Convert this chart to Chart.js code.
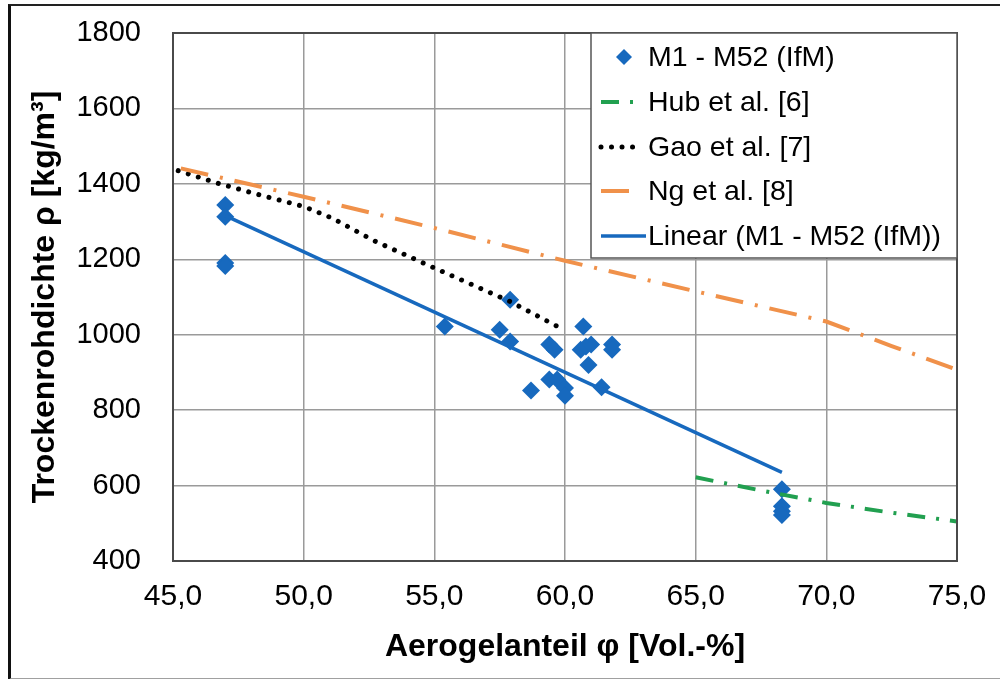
<!DOCTYPE html>
<html>
<head>
<meta charset="utf-8">
<script src="https://cdn.jsdelivr.net/npm/chart.js@4/dist/chart.umd.min.js"></script>
<style>
  html, body { margin: 0; padding: 0; background: #fff; }
  #wrap { position: relative; width: 1000px; height: 679px; overflow: hidden; }
  #frame { position: absolute; left: 8px; top: 4px; width: 1100px; height: 672px;
           border-left: 3px solid #111; border-top: 2px solid #222; border-bottom: 2px solid #a0a0a0;
           pointer-events: none; }
  canvas { position: absolute; left: 0; top: 0; }
</style>
</head>
<body>
<div id="wrap">
  <canvas id="c" width="1000" height="679"></canvas>
  <div id="frame"></div>
</div>
<script>
// ---- data ----
const ifmX = [47.0, 47.0, 47.0, 47.0, 55.4, 57.5, 57.9, 57.9, 59.4, 59.6, 59.4, 59.7, 58.7, 60.0, 60.0,
              60.7, 60.6, 60.8, 61.0, 60.9, 61.8, 61.8, 61.4, 68.3, 68.3, 68.3, 68.3];
const ifmY = [1344, 1313, 1190, 1182, 1022, 1013, 1093, 982, 974, 960, 881, 881, 852, 859, 838,
              1022, 960, 969, 974, 920, 974, 960, 861, 590, 545, 532, 522];

const hubX = [65.0, 67.5, 70.0, 72.5, 75.0];
const hubY = [622, 587, 554, 528, 505];

const gaoX = [45.2, 46.7, 48.3, 50.0, 51.1, 52.7, 55.0, 57.9, 59.9];
const gaoY = [1435, 1402, 1371, 1340, 1309, 1249, 1177, 1088, 1015];

const ngX = [45.3, 50.0, 55.0, 60.0, 65.0, 70.0, 72.5, 75.0];
const ngY = [1441, 1366, 1283, 1196, 1115, 1035, 970, 907];

const trendX = [47.0, 68.3];
const trendY = [1316, 635];

const xTicks = [45, 50, 55, 60, 65, 70, 75];
const yTicks = [400, 600, 800, 1000, 1200, 1400, 1600, 1800];

const seriesNames = ['M1 - M52 (IfM)', 'Hub et al. [6]', 'Gao et al. [7]', 'Ng et al. [8]', 'Linear (M1 - M52 (IfM))'];

// ---- helpers ----
const pts = (xs, ys) => xs.map((x, i) => ({ x: x, y: ys[i] }));
const FONT = '"Liberation Sans", Arial, sans-serif';
const BLUE = '#1769BE', GREEN = '#22A050', ORANGE = '#F0914A', BLACK = '#000';
const CLEAR = 'rgba(0,0,0,0)';

const frameBorder = {
  id: 'frameBorder',
  afterDraw(chart) {
    const { ctx, chartArea: a } = chart;
    ctx.save();
    ctx.strokeStyle = '#4a4a4a';
    ctx.lineWidth = 2;
    ctx.strokeRect(a.left, a.top, a.right - a.left, a.bottom - a.top);
    ctx.restore();
  }
};

const customLegend = {
  id: 'customLegend',
  afterDraw(chart) {
    const { ctx } = chart;
    const L = 591, T = 33, R = 957, B = 258;
    ctx.save();
    ctx.fillStyle = '#fff';
    ctx.fillRect(L, T, R - L, B - T);
    ctx.strokeStyle = '#555';
    ctx.lineWidth = 1.5;
    ctx.strokeRect(L, T, R - L, B - T);
    const rows = [57, 102, 147, 191, 236];
    const ds = chart.data.datasets;
    ctx.font = '28.5px ' + FONT;
    ctx.textBaseline = 'middle';
    ctx.textAlign = 'left';
    rows.forEach((y, i) => {
      const d = ds[i];
      ctx.save();
      if (i === 0) {
        ctx.fillStyle = d.backgroundColor;
        ctx.beginPath();
        const r = 8, cx = 624;
        ctx.moveTo(cx - r, y); ctx.lineTo(cx, y - r); ctx.lineTo(cx + r, y); ctx.lineTo(cx, y + r);
        ctx.closePath(); ctx.fill();
      } else {
        ctx.strokeStyle = d.borderColor;
        ctx.lineWidth = d.borderWidth;
        ctx.lineCap = d.borderCapStyle || 'butt';
        ctx.setLineDash(d.borderDash || []);
        ctx.beginPath();
        ctx.moveTo(601, y); ctx.lineTo(i === 4 ? 646 : 634, y);
        ctx.stroke();
      }
      ctx.restore();
      ctx.fillStyle = '#000';
      ctx.fillText(d.label, 648, y + 1);
    });
    ctx.restore();
  }
};

new Chart(document.getElementById('c'), {
  type: 'scatter',
  data: {
    datasets: [
      { label: seriesNames[0], data: pts(ifmX, ifmY), showLine: false,
        pointStyle: 'rectRot', pointRadius: 9, pointHoverRadius: 9,
        backgroundColor: BLUE, borderColor: BLUE, pointBorderWidth: 0, order: 5 },
      { label: seriesNames[1], data: pts(hubX, hubY), showLine: true, pointRadius: 0,
        borderColor: GREEN, backgroundColor: GREEN, borderWidth: 4, borderDash: [18, 11, 3, 11], order: 4 },
      { label: seriesNames[2], data: pts(gaoX, gaoY), showLine: true, pointRadius: 0,
        borderColor: BLACK, backgroundColor: BLACK, borderWidth: 5, borderDash: [0.01, 10.5],
        borderCapStyle: 'round', order: 3 },
      { label: seriesNames[3], data: pts(ngX, ngY), showLine: true, pointRadius: 0,
        borderColor: ORANGE, backgroundColor: ORANGE, borderWidth: 4, borderDash: [28, 12, 3, 12], order: 2 },
      { label: seriesNames[4], data: pts(trendX, trendY), showLine: true, pointRadius: 0,
        borderColor: BLUE, backgroundColor: BLUE, borderWidth: 3.5, order: 1 }
    ]
  },
  options: {
    responsive: false,
    animation: false,
    devicePixelRatio: 1,
    layout: { padding: { left: 0, top: 33, right: 43, bottom: 0 } },
    plugins: { legend: { display: false }, tooltip: { enabled: false } },
    scales: {
      x: {
        type: 'linear', min: 45, max: 75,
        afterBuildTicks: s => { s.ticks = xTicks.map(v => ({ value: v })); },
        afterFit: s => { s.height = 118; },
        grid: { color: '#9a9a9a', lineWidth: 1.5, drawTicks: true, tickLength: 18, tickColor: CLEAR },
        border: { display: false },
        ticks: { padding: 0, color: '#000', font: { family: FONT, size: 30 },
                 callback: v => v.toFixed(1).replace('.', ',') },
        title: { display: true, text: 'Aerogelanteil φ [Vol.-%]', color: '#000',
                 font: { family: FONT, size: 32, weight: 'bold' }, padding: { top: 0, bottom: 13 } }
      },
      y: {
        type: 'linear', min: 400, max: 1800,
        afterBuildTicks: s => { s.ticks = yTicks.map(v => ({ value: v })); },
        afterFit: s => { s.width = 173; },
        grid: { color: '#9a9a9a', lineWidth: 1.5, drawTicks: true, tickLength: 32, tickColor: CLEAR },
        border: { display: false },
        ticks: { padding: 0, color: '#000', font: { family: FONT, size: 29 },
                 callback: v => String(v) },
        title: { display: true, text: 'Trockenrohdichte ρ [kg/m³]', color: '#000',
                 font: { family: FONT, size: 32, weight: 'bold' }, padding: { top: 26, bottom: 0 } }
      }
    }
  },
  plugins: [frameBorder, customLegend]
});
</script>
</body>
</html>
